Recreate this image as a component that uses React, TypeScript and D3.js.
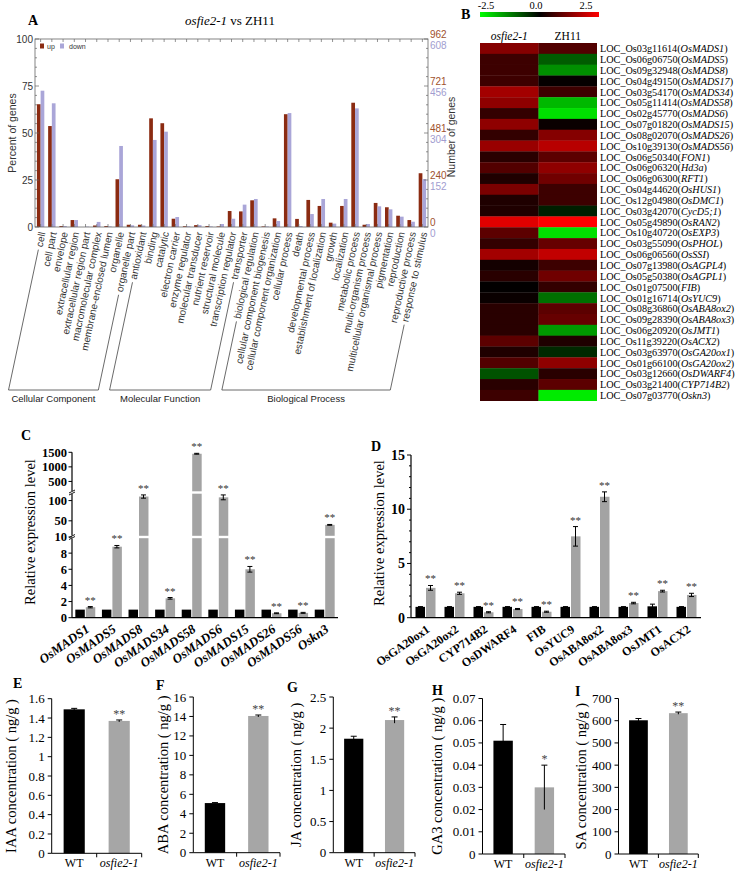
import React from 'react';
import * as d3 from 'd3';

const serif = "'Liberation Serif', 'Times New Roman', serif";
const sans = "'Liberation Sans', Arial, sans-serif";

// ---------- Panel A data ----------
const goCategories = [
  'cell', 'cell part', 'envelope', 'extracellular region', 'extracellular region part',
  'macromolecular complex', 'membrane-enclosed lumen', 'organelle', 'organelle part',
  'antioxidant', 'binding', 'catalytic', 'electron carrier', 'enzyme regulator',
  'molecular transducer', 'nutrient reservoir', 'structural molecule', 'transcription regulator', 'transporter',
  'biological regulation', 'cellular component biogenesis', 'cellular component organization', 'cellular process',
  'death', 'developmental process', 'establishment of localization', 'growth', 'localization',
  'metabolic process', 'multi-organism process', 'multicellular organismal process', 'pigmentation',
  'reproduction', 'reproductive process', 'response to stimulus',
];
const goUp = [65.3, 53.7, 0.5, 3.7, 0, 0.8, 0.5, 25.4, 1.2, 1.2, 57.8, 55.2, 4.4, 0.4, 1.0, 0.5, 0.3, 8.5, 8.3,
  14.2, 0.3, 4.6, 60.0, 4.3, 14.4, 11.2, 2.3, 11.2, 66.1, 1.2, 12.8, 10.5, 6.0, 3.7, 28.6];
const goDown = [72.5, 65.8, 0.5, 3.7, 0.2, 2.7, 0.3, 43.1, 0.9, 0.8, 46.3, 50.7, 5.3, 0.4, 1.0, 0.3, 1.6, 4.4, 11.9,
  14.9, 0.3, 3.2, 60.6, 0.5, 6.9, 14.9, 1.8, 14.9, 63.1, 1.6, 11.0, 9.4, 5.5, 2.8, 25.5];
const goGroupNames = ['Cellular Component', 'Molecular Function', 'Biological Process'];
const goGroupSizes = [9, 10, 16];
const goUpTotal = 962;
const goDownTotal = 608;
const goPctTicks = [0, 25, 50, 75, 100];

// ---------- Panel B data ----------
const hmColumns = ['osfie2-1', 'ZH11'];
const hmLoci = ['LOC_Os03g11614', 'LOC_Os06g06750', 'LOC_Os09g32948', 'LOC_Os04g49150', 'LOC_Os03g54170',
  'LOC_Os05g11414', 'LOC_Os02g45770', 'LOC_Os07g01820', 'LOC_Os08g02070', 'LOC_Os10g39130', 'LOC_Os06g50340',
  'LOC_Os06g06320', 'LOC_Os06g06300', 'LOC_Os04g44620', 'LOC_Os12g04980', 'LOC_Os03g42070', 'LOC_Os05g49890',
  'LOC_Os10g40720', 'LOC_Os03g55090', 'LOC_Os06g06560', 'LOC_Os07g13980', 'LOC_Os05g50380', 'LOC_Os01g07500',
  'LOC_Os01g16714', 'LOC_Os08g36860', 'LOC_Os09g28390', 'LOC_Os06g20920', 'LOC_Os11g39220', 'LOC_Os03g63970',
  'LOC_Os01g66100', 'LOC_Os03g12660', 'LOC_Os03g21400', 'LOC_Os07g03770'];
const hmGenes = ['OsMADS1', 'OsMADS5', 'OsMADS8', 'OsMADS17', 'OsMADS34', 'OsMADS58', 'OsMADS6', 'OsMADS15',
  'OsMADS26', 'OsMADS56', 'FON1', 'Hd3a', 'RFT1', 'OsHUS1', 'OsDMC1', 'CycD5;1', 'OsRAN2', 'OsEXP3', 'OsPHOL',
  'OsSSI', 'OsAGPL4', 'OsAGPL1', 'FIB', 'OsYUC9', 'OsABA8ox2', 'OsABA8ox3', 'OsJMT1', 'OsACX2', 'OsGA20ox1',
  'OsGA20ox2', 'OsDWARF4', 'CYP714B2', 'Oskn3'];
const hmMutant = [1.3, 0.6, 0.6, 0.6, 1.6, 1.4, 0.5, 1.4, 0.5, 1.5, 0.4, 0.8, 0.3, 1.2, 0.3, 0.3, 2.2, 0.9, 0.5,
  1.6, 0.2, 0.4, 0.02, 0.1, 0.4, 0.4, 0.4, 0.9, 0.3, 0.8, -0.8, 0.4, 0.6];
const hmWT = [0.8, -0.9, -1.4, 0.05, 0.6, -1.8, -2.2, 0.1, 1.3, 1.8, 0.9, 1.4, 1.1, 0.6, 0.6, -0.3, 2.5, -2.2, 1.0,
  1.9, 0.6, 1.1, 0.5, -1.1, 0.9, 1.0, -1.5, 0.3, -0.4, 1.4, 0.4, 0.9, -2.3];
const hmScaleTicks = [-2.5, 0, 2.5];

// ---------- Panel C data ----------
const cGenes = ['OsMADS1', 'OsMADS5', 'OsMADS8', 'OsMADS34', 'OsMADS58', 'OsMADS6', 'OsMADS15', 'OsMADS26', 'OsMADS56', 'Oskn3'];
const cWT = [1, 1, 1, 1, 1, 1, 1, 1, 1, 1];
const cMut = [1.3, 8.8, 110, 2.4, 1450, 108, 6.0, 0.55, 0.6, 40];
const cMutErr = [0.08, 0.15, 4, 0.1, 15, 6, 0.35, 0.05, 0.06, 1];
const cTicksLow = [0, 2, 4, 6, 8, 10];
const cTicksMid = [50, 100];
const cTicksHigh = [500, 1000, 1500];

// ---------- Panel D data ----------
const dGenes = ['OsGA20ox1', 'OsGA20ox2', 'CYP714B2', 'OsDWARF4', 'FIB', 'OsYUC9', 'OsABA8ox2', 'OsABA8ox3', 'OsJMT1', 'OsACX2'];
const dWT = [1, 1, 1, 1, 1, 1, 1, 1, 1.05, 1];
const dWTErr = [0.02, 0.02, 0.02, 0.02, 0.02, 0.02, 0.02, 0.02, 0.2, 0.02];
const dMut = [2.75, 2.25, 0.5, 0.8, 0.55, 7.5, 11.15, 1.35, 2.45, 2.1];
const dMutErr = [0.22, 0.1, 0.05, 0.05, 0.05, 0.9, 0.45, 0.07, 0.08, 0.15];
const dTicks = [0, 5, 10, 15];

// ---------- Panels E-I data ----------
const hormoneLetters = ['E', 'F', 'G', 'H', 'I'];
const hormoneNames = ['IAA', 'ABA', 'JA', 'GA3', 'SA'];
const hormoneGroups = ['WT', 'osfie2-1'];
const hormoneWT = [1.49, 5.1, 1.83, 0.051, 602];
const hormoneWTErr = [0.01, 0.05, 0.04, 0.0073, 8];
const hormoneMut = [1.37, 14.05, 2.13, 0.030, 634];
const hormoneMutErr = [0.01, 0.1, 0.05, 0.01, 5];
const hormoneSig = ['**', '**', '**', '*', '**'];
const hormoneMax = [1.6, 16, 2.5, 0.07, 700];
const hormoneStep = [0.2, 2, 0.5, 0.01, 100];

// layout of E-I panels
const hLayout = [
  { ax: 51.7, x1: 141.7, y0: 853.3, y1: 698.7, lx: 13, ly: 688, tx: 11 },
  { ax: 193.3, x1: 280, y0: 852.7, y1: 697, lx: 156, ly: 690, tx: 163 },
  { ax: 333.3, x1: 415, y0: 852.7, y1: 697, lx: 287, ly: 692, tx: 296 },
  { ax: 482.5, x1: 565, y0: 854, y1: 698.5, lx: 432, ly: 695, tx: 437 },
  { ax: 618.5, x1: 698.3, y0: 854, y1: 698.5, lx: 575, ly: 696, tx: 581 },
];

let measureCtx: CanvasRenderingContext2D | null = null;
function textWidth(s: string, font: string) {
  if (!measureCtx && typeof document !== 'undefined') {
    measureCtx = document.createElement('canvas').getContext('2d');
  }
  if (!measureCtx) return s.length * 5;
  measureCtx.font = font;
  return measureCtx.measureText(s).width;
}

const brown = '#8b2b12';
const lav = '#aaa6d8';

function PanelA() {
  const x = d3.scaleBand<string>().domain(goCategories).range([35, 428]);
  const bw = x.bandwidth();
  const sub = d3.scaleBand<string>().domain(['up', 'down']).range([bw * 0.17, bw * 0.83]);
  const y = d3.scaleLinear().domain([0, 100]).range([227, 39]);
  const yN = d3.scaleLinear().domain([0, goUpTotal]).range([227, 39]);
  const rad = (78 * Math.PI) / 180;
  const labY = 232;
  const bracketY = 390;
  const labFont = "10px 'Liberation Sans'";
  const cxOf = (c: string) => (x(c) as number) + bw / 2 + 1.5;
  const minor = d3.range(0, 101, 5);

  const sidePts = (i: number) => {
    const c = goCategories[i];
    const cx = cxOf(c);
    const L = textWidth(c, labFont) + 3;
    const s = [cx - L * Math.cos(rad), labY + L * Math.sin(rad)];
    const b = [cx - (bracketY - labY) / Math.tan(rad), bracketY];
    return { s, b };
  };
  const starts = goGroupSizes.map((_, i) => d3.sum(goGroupSizes.slice(0, i)));

  return (
    <g>
      <text x={28} y={25} fontWeight="bold" fontSize={14}>A</text>
      <text x={230} y={25} textAnchor="middle" fontSize={13}>
        <tspan fontStyle="italic">osfie2-1</tspan> vs ZH11
      </text>
      {goCategories.map((c, i) => (
        <g key={c}>
          <rect x={(x(c) as number) + (sub('up') as number)} y={y(goUp[i])} width={sub.bandwidth()} height={227 - y(goUp[i])} fill={brown} />
          <rect x={(x(c) as number) + (sub('down') as number)} y={y(goDown[i])} width={sub.bandwidth()} height={227 - y(goDown[i])} fill={lav} />
        </g>
      ))}
      <rect x={35} y={39} width={393} height={188} fill="none" stroke="#666" strokeWidth={0.8} />
      {goCategories.map((c) => (
        <g key={'t' + c}>
          <line x1={cxOf(c) - 1.5} x2={cxOf(c) - 1.5} y1={39} y2={42} stroke="#666" strokeWidth={0.7} />
          <line x1={cxOf(c) - 1.5} x2={cxOf(c) - 1.5} y1={227} y2={224} stroke="#666" strokeWidth={0.7} />
        </g>
      ))}
      {minor.map((t) => (
        <g key={'m' + t}>
          <line x1={35} x2={t % 25 === 0 ? 39 : 37} y1={y(t)} y2={y(t)} stroke="#666" strokeWidth={0.7} />
          <line x1={428} x2={t % 25 === 0 ? 424 : 426} y1={y(t)} y2={y(t)} stroke="#666" strokeWidth={0.7} />
        </g>
      ))}
      {goPctTicks.map((t) => (
        <text key={'l' + t} x={33} y={y(t) + 3.5} textAnchor="end" fontSize={10} fontFamily={sans} fill="#333">{t}</text>
      ))}
      {goPctTicks.map((t) => {
        const up = Math.floor((goUpTotal * t) / 100);
        const dn = Math.floor((goDownTotal * t) / 100);
        return (
          <g key={'r' + t}>
            <text x={430} y={yN(up) - 1.5} fontSize={10} fontFamily={sans} fill="#a0522d">{up}</text>
            <text x={430} y={y(t) + 9.5} fontSize={10} fontFamily={sans} fill="#a19dd0">{dn}</text>
          </g>
        );
      })}
      <text transform="translate(16,133) rotate(-90)" textAnchor="middle" fontSize={10.5} fontFamily={sans} fill="#333">Percent of genes</text>
      <text transform="translate(455,137) rotate(-90)" textAnchor="middle" fontSize={10.5} fontFamily={sans} fill="#333">Number of genes</text>
      <rect x={40} y={43.5} width={4} height={5} fill={brown} />
      <text x={47} y={48.5} fontSize={7} fontFamily={sans} fill="#333">up</text>
      <rect x={60} y={43.5} width={4} height={5} fill={lav} />
      <text x={69} y={48.5} fontSize={7} fontFamily={sans} fill="#333">down</text>
      {goCategories.map((c) => (
        <text key={'x' + c} transform={`translate(${cxOf(c)},${labY}) rotate(-78)`} textAnchor="end" dy="0.35em" fontSize={10} fontFamily={sans} fill="#333">{c}</text>
      ))}
      {goGroupNames.map((g, gi) => {
        const a = sidePts(starts[gi]);
        const b = sidePts(starts[gi] + goGroupSizes[gi] - 1);
        return (
          <g key={g}>
            <polyline points={`${a.s[0]},${a.s[1]} ${a.b[0]},${a.b[1]} ${b.b[0]},${b.b[1]} ${b.s[0]},${b.s[1]}`} fill="none" stroke="#444" strokeWidth={0.8} />
            <text x={(a.b[0] + b.b[0]) / 2} y={402} textAnchor="middle" fontSize={9.5} fontFamily={sans} fill="#222">{g}</text>
          </g>
        );
      })}
    </g>
  );
}

function PanelB() {
  const x = d3.scaleBand<string>().domain(hmColumns).range([480, 597]);
  const y = d3.scaleBand<string>().domain(hmLoci).range([43, 400.7]);
  const color = d3.scaleLinear<string>().domain([-2.5, 0, 2.5]).range(['#00ff00', '#000000', '#ff0000']).clamp(true);
  const cb = d3.scaleLinear().domain([-2.5, 2.5]).range([486, 586]);
  return (
    <g>
      <defs>
        <linearGradient id="hmgrad" x1="0" x2="1" y1="0" y2="0">
          <stop offset="0%" stopColor={color(-2.5)} />
          <stop offset="50%" stopColor={color(0)} />
          <stop offset="100%" stopColor={color(2.5)} />
        </linearGradient>
      </defs>
      <text x={461} y={19} fontWeight="bold" fontSize={14}>B</text>
      <rect x={480} y={12} width={119} height={5} fill="url(#hmgrad)" />
      {hmScaleTicks.map((t) => (
        <text key={t} x={cb(t)} y={9} textAnchor="middle" fontSize={10.5}>{t.toFixed(1)}</text>
      ))}
      {hmColumns.map((c, i) => (
        <text key={c} x={(x(c) as number) + x.bandwidth() / 2} y={40} textAnchor="middle" fontSize={11.5} fontStyle={i === 0 ? 'italic' : 'normal'}>{c}</text>
      ))}
      {hmLoci.map((l, i) => (
        <g key={l}>
          <rect x={x(hmColumns[0])} y={y(l)} width={x.bandwidth() + 0.3} height={y.bandwidth() + 0.3} fill={color(hmMutant[i])} />
          <rect x={x(hmColumns[1])} y={y(l)} width={x.bandwidth()} height={y.bandwidth() + 0.3} fill={color(hmWT[i])} />
          <text x={600} y={(y(l) as number) + y.bandwidth() / 2 + 3.8} fontSize={10.2}>
            {l}(<tspan fontStyle="italic">{hmGenes[i]}</tspan>)
          </text>
        </g>
      ))}
    </g>
  );
}

function PanelC() {
  const x = d3.scaleBand<string>().domain(cGenes).range([72, 338]).paddingInner(0.25).paddingOuter(0.125);
  const s1 = d3.scaleLinear().domain([0, 10]).range([617.7, 537]);
  const s2 = d3.scaleLinear().domain([10, 120]).range([537, 492.5]);
  const s3 = d3.scaleLinear().domain([120, 1500]).range([492.5, 452.3]);
  const yC = (v: number) => (v <= 10 ? s1(v) : v <= 120 ? s2(v) : s3(v));
  const bw = x.bandwidth();
  const half = bw / 2;
  const base = s1(0);
  const breaks = [10, 120];
  const ticks = [...cTicksLow, ...cTicksMid, ...cTicksHigh];
  return (
    <g>
      <text x={21} y={440} fontWeight="bold" fontSize={14}>C</text>
      {cGenes.map((g, i) => {
        const x0 = x(g) as number;
        const top = yC(cMut[i] + cMutErr[i]);
        return (
          <g key={g}>
            <rect x={x0} y={yC(cWT[i])} width={half - 0.5} height={base - yC(cWT[i])} fill="#000" />
            <rect x={x0 + half + 0.5} y={yC(cMut[i])} width={half - 0.5} height={base - yC(cMut[i])} fill="#a3a3a3" />
            {breaks.filter((b) => cMut[i] > b).map((b) => (
              <rect key={b} x={x0 + half} y={yC(b) - 1.2} width={half + 1} height={2.4} fill="#fff" />
            ))}
            <line x1={x0 + half * 1.5} x2={x0 + half * 1.5} y1={top} y2={yC(Math.max(0, cMut[i] - cMutErr[i]))} stroke="#000" strokeWidth={1} />
            <line x1={x0 + half * 1.5 - 2.5} x2={x0 + half * 1.5 + 2.5} y1={top} y2={top} stroke="#000" strokeWidth={1} />
            <line x1={x0 + half * 1.5 - 2.5} x2={x0 + half * 1.5 + 2.5} y1={yC(Math.max(0, cMut[i] - cMutErr[i]))} y2={yC(Math.max(0, cMut[i] - cMutErr[i]))} stroke="#000" strokeWidth={1} />
            <text x={x0 + half * 1.5} y={top - 3} textAnchor="middle" fontSize={11} fill="#333">**</text>
            <text transform={`translate(${x0 + bw / 2 + 5},${631}) rotate(-35)`} textAnchor="end" fontSize={13} fontWeight="bold" fontStyle="italic">{g}</text>
          </g>
        );
      })}
      <line x1={72} x2={338} y1={base} y2={base} stroke="#000" strokeWidth={1.2} />
      <line x1={72} x2={72} y1={base} y2={s3(1500)} stroke="#000" strokeWidth={1.2} />
      {breaks.map((b) => (
        <g key={'b' + b}>
          <rect x={69} y={yC(b) - 1.5} width={6} height={3} fill="#fff" />
          <line x1={69} x2={75} y1={yC(b) + 0.5} y2={yC(b) - 2.5} stroke="#000" strokeWidth={0.9} />
          <line x1={69} x2={75} y1={yC(b) + 2.5} y2={yC(b) - 0.5} stroke="#000" strokeWidth={0.9} />
        </g>
      ))}
      {ticks.map((t) => (
        <g key={'t' + t}>
          <line x1={68.5} x2={72} y1={yC(t)} y2={yC(t)} stroke="#000" strokeWidth={1} />
          <text x={67} y={yC(t)} dy="0.35em" textAnchor="end" fontSize={12.5} fontWeight="bold">{t}</text>
        </g>
      ))}
      <text transform="translate(35,532) rotate(-90)" textAnchor="middle" fontSize={14.5}>Relative expression level</text>
    </g>
  );
}

function PanelD() {
  const x = d3.scaleBand<string>().domain(dGenes).range([411, 701]).paddingInner(0.31).paddingOuter(0.155);
  const y = d3.scaleLinear().domain([0, 15]).range([617.7, 455]);
  const bw = x.bandwidth();
  const half = bw / 2;
  const base = y(0);
  const minor = d3.range(0, 16, 1);
  const err = (cx: number, v: number, e: number) => (
    <g>
      <line x1={cx} x2={cx} y1={y(v + e)} y2={y(v - e)} stroke="#000" strokeWidth={1} />
      <line x1={cx - 2.5} x2={cx + 2.5} y1={y(v + e)} y2={y(v + e)} stroke="#000" strokeWidth={1} />
      <line x1={cx - 2.5} x2={cx + 2.5} y1={y(v - e)} y2={y(v - e)} stroke="#000" strokeWidth={1} />
    </g>
  );
  return (
    <g>
      <text x={371} y={451} fontWeight="bold" fontSize={14}>D</text>
      {dGenes.map((g, i) => {
        const x0 = x(g) as number;
        return (
          <g key={g}>
            <rect x={x0} y={y(dWT[i])} width={half - 0.5} height={base - y(dWT[i])} fill="#000" />
            <rect x={x0 + half + 0.5} y={y(dMut[i])} width={half - 0.5} height={base - y(dMut[i])} fill="#a3a3a3" />
            {err(x0 + half * 0.5, dWT[i], dWTErr[i])}
            {err(x0 + half * 1.5, dMut[i], dMutErr[i])}
            <text x={x0 + half * 1.5} y={y(dMut[i] + dMutErr[i]) - 3} textAnchor="middle" fontSize={11} fill="#333">**</text>
            <text transform={`translate(${x0 + bw / 2 + 5},${631}) rotate(-35)`} textAnchor="end" fontSize={12} fontWeight="bold">{g}</text>
          </g>
        );
      })}
      <line x1={411} x2={701} y1={base} y2={base} stroke="#000" strokeWidth={1.2} />
      <line x1={411} x2={411} y1={base} y2={y(15)} stroke="#000" strokeWidth={1.2} />
      {minor.map((t) => (
        <line key={'m' + t} x1={t % 5 === 0 ? 407 : 409} x2={411} y1={y(t)} y2={y(t)} stroke="#000" strokeWidth={1} />
      ))}
      {dTicks.map((t) => (
        <text key={t} x={405} y={y(t)} dy="0.35em" textAnchor="end" fontSize={14} fontWeight="bold">{t}</text>
      ))}
      <text transform="translate(384,533) rotate(-90)" textAnchor="middle" fontSize={14.5}>Relative expression level</text>
    </g>
  );
}

function HormonePanel({ i }: { i: number }) {
  const L = hLayout[i];
  const y = d3.scaleLinear().domain([0, hormoneMax[i]]).range([L.y0, L.y1]);
  const x = d3.scaleBand<string>().domain(hormoneGroups).range([L.ax, L.x1]);
  const bw = x.bandwidth() * 0.47;
  const ticks = d3.range(0, hormoneMax[i] + hormoneStep[i] / 2, hormoneStep[i]).map((v) => +v.toFixed(6));
  const vals = [hormoneWT[i], hormoneMut[i]];
  const errs = [hormoneWTErr[i], hormoneMutErr[i]];
  const fills = ['#000', '#a6a6a6'];
  return (
    <g>
      <text x={L.lx} y={L.ly} fontWeight="bold" fontSize={14}>{hormoneLetters[i]}</text>
      {hormoneGroups.map((g, k) => {
        const cx = (x(g) as number) + x.bandwidth() / 2;
        const top = y(vals[k] + errs[k]);
        const bot = y(vals[k] - errs[k]);
        return (
          <g key={g}>
            <rect x={cx - bw / 2} y={y(vals[k])} width={bw} height={L.y0 - y(vals[k])} fill={fills[k]} />
            <line x1={cx} x2={cx} y1={top} y2={bot} stroke="#000" strokeWidth={1} />
            <line x1={cx - 3} x2={cx + 3} y1={top} y2={top} stroke="#000" strokeWidth={1} />
            {k === 1 && (
              <text x={cx} y={top - 2} textAnchor="middle" fontSize={12} fill="#444">{hormoneSig[i]}</text>
            )}
            <text x={cx} y={L.y0 + 14} textAnchor="middle" fontSize={12} fontStyle={k === 1 ? 'italic' : 'normal'}>{g}</text>
          </g>
        );
      })}
      <line x1={L.ax} x2={L.x1} y1={L.y0} y2={L.y0} stroke="#000" strokeWidth={1} />
      <line x1={L.ax} x2={L.ax} y1={L.y0} y2={L.y1} stroke="#000" strokeWidth={1} />
      {hormoneGroups.map((g) => {
        const xe = (x(g) as number) + x.bandwidth();
        return <line key={'xt' + g} x1={xe} x2={xe} y1={L.y0} y2={L.y0 + 4} stroke="#000" strokeWidth={1} />;
      })}
      {ticks.map((t) => (
        <g key={t}>
          <line x1={L.ax - 4} x2={L.ax} y1={y(t)} y2={y(t)} stroke="#000" strokeWidth={1} />
          <text x={L.ax - 7} y={y(t)} dy="0.35em" textAnchor="end" fontSize={13}>{String(t)}</text>
        </g>
      ))}
      <text transform={`translate(${L.tx},${(L.y0 + L.y1) / 2}) rotate(-90)`} dy="0.35em" textAnchor="middle" fontSize={14.5}>
        {hormoneNames[i]} concentration ( ng/g )
      </text>
    </g>
  );
}

export default function App() {
  return (
    <svg width={735} height={872} style={{ position: 'absolute', left: 0, top: 0, background: '#fff' }} fontFamily={serif}>
      <rect width={735} height={872} fill="#fff" />
      <PanelA />
      <PanelB />
      <PanelC />
      <PanelD />
      {hormoneNames.map((_, i) => (
        <HormonePanel key={i} i={i} />
      ))}
    </svg>
  );
}
